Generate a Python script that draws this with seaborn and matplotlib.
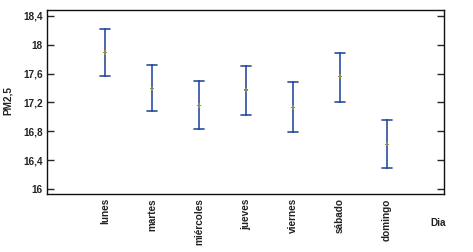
import pandas as pd
import seaborn as sns
import matplotlib.pyplot as plt

# === data ===
dias = ["lunes", "martes", "miércoles", "jueves", "viernes", "sábado", "domingo"]
media = [17.89, 17.39, 17.16, 17.37, 17.13, 17.56, 16.62]
inferior = [17.57, 17.08, 16.83, 17.03, 16.79, 17.21, 16.29]
superior = [18.22, 17.72, 17.49, 17.70, 17.48, 17.89, 16.95]
yticks = [16, 16.4, 16.8, 17.2, 17.6, 18, 18.4]
ytick_labels = ["16", "16,4", "16,8", "17,2", "17,6", "18", "18,4"]

# long table: lower / mean / upper per day -> median = mean, 100% interval = bar
rows = []
for d, lo, m, hi in zip(dias, inferior, media, superior):
    for v in (lo, m, hi):
        rows.append({"Dia": d, "PM2,5": v})
df = pd.DataFrame(rows)
df_media = pd.DataFrame({"Dia": dias, "PM2,5": media})

sns.set_style("white")
plt.rcParams["font.family"] = ["Liberation Sans", "DejaVu Sans"]
plt.rcParams["font.weight"] = "bold"

FS = 7.2
fig = plt.figure(figsize=(4.73, 2.52), dpi=100)
ax = fig.add_axes([0.0994, 0.230, 0.8393, 0.730])

sns.pointplot(data=df, x="Dia", y="PM2,5", order=dias, estimator="median",
              errorbar=("pi", 100), linestyle="none", marker="",
              color="#2a4fa0", capsize=0.21, err_kws={"linewidth": 1.2}, ax=ax)
sns.scatterplot(data=df_media, x="Dia", y="PM2,5", marker="P", s=10,
                color="#8c8c5a", edgecolor="none", zorder=5, ax=ax)

ax.set_xlim(-1.23, 7.21)
ax.set_ylim(15.93, 18.48)
ax.set_yticks(yticks)
ax.set_yticklabels(ytick_labels)
ax.tick_params(axis="y", direction="in", length=5, width=1, left=True, right=True,
               labelsize=FS, labelcolor="#222222", pad=3)
ax.tick_params(axis="x", length=0, labelsize=FS, labelcolor="#222222",
               labelrotation=90, pad=3)
for s in ax.spines.values():
    s.set_visible(True)
    s.set_color("#111111")
    s.set_linewidth(1.0)

ax.set_xlabel("Dia", fontsize=FS, fontweight="bold", color="#222222")
ax.xaxis.set_label_coords(0.985, -0.13)
ax.set_ylabel("PM2,5", fontsize=FS, fontweight="bold", color="#222222")
ax.yaxis.set_label_coords(-0.085, 0.51)

plt.savefig("out.png", dpi=100)
plt.close()
